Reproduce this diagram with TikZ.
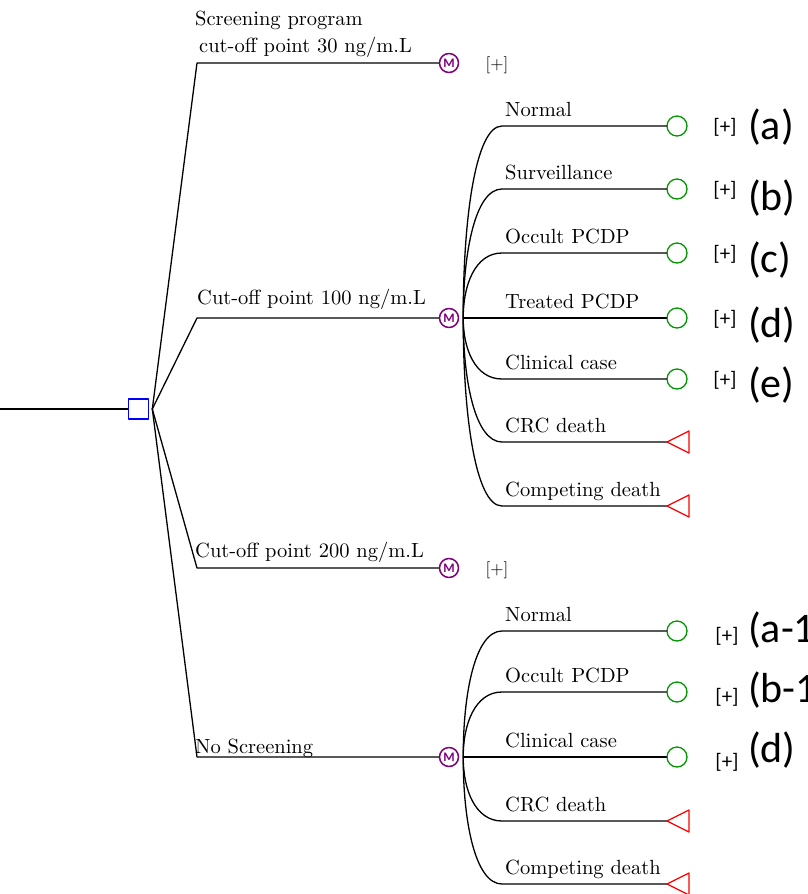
\documentclass[tikz,border=0pt]{standalone}
\usepackage{fontspec}
\newfontfamily\tagfont{Carlito}
\newfontfamily\treefont{lmroman10-regular}[Extension=.otf]
\definecolor{mkv}{RGB}{128,0,128}
\definecolor{chc}{RGB}{0,150,0}
\begin{document}
\begin{tikzpicture}[x=1pt,y=-1pt,line cap=round,line join=round,
  branch/.style={line width=1.3pt},
  decision/.style={draw=blue,line width=1.6pt,minimum size=20pt,inner sep=0pt},
  markov/.style={draw=mkv,circle,line width=1.5pt,minimum size=19pt,inner sep=0pt,
    text=mkv,font=\tagfont\bfseries\fontsize{13}{13}\selectfont},
  chance/.style={draw=chc,circle,line width=1.3pt,minimum size=20pt,inner sep=0pt},
  terminal/.style={draw=red,line width=1.3pt},
  lbl/.style={anchor=base west,inner sep=0pt,font=\treefont\fontsize{20.5}{24}\selectfont},
  more/.style={inner sep=0pt,font=\tagfont\fontsize{21}{21}\selectfont},
  tag/.style={anchor=base west,inner sep=0pt,font=\tagfont\fontsize{42}{42}\selectfont}]
  \useasboundingbox (0,0) rectangle (807,894);
  \clip (0,0) rectangle (807,894);

  % root and decision
  \coordinate (start) at (0,409);
  \node[decision] (dec) at (138.5,409) {};
  \draw[branch] (start) -- (dec.west);

  % strategies
  \node[markov] (m1) at (449,63) {M};
  \node[markov] (m2) at (449,318) {M};
  \node[markov] (m3) at (449,568) {M};
  \node[markov] (m4) at (449,757) {M};
  \foreach \m/\y in {m1/63,m2/318,m3/568,m4/757}
    \draw[branch] ([xshift=3pt]dec.east) -- (197,\y) -- (\m.west);
  \node[lbl] at (195,25) {Screening program};
  \node[lbl] at (199,52) {cut-off point 30 ng/m.L};
  \node[lbl] at (197,304) {Cut-off point 100 ng/m.L};
  \node[lbl] at (195,557) {Cut-off point 200 ng/m.L};
  \node[lbl] at (195,753) {No Screening};
  \node[inner sep=0pt,font=\treefont\fontsize{17}{17}\selectfont] at (497,65) {[+]};
  \node[inner sep=0pt,font=\treefont\fontsize{17}{17}\selectfont] at (497,570) {[+]};

  % states under cut-off 100
  \coordinate (h2) at ([xshift=4pt]m2.east);
  \foreach \y/\n/\txt/\ty/\lab in {126/a/Normal/139/(a),189/b/Surveillance/210/(b),
      253/c/Occult PCDP/272/(c),318/d/Treated PCDP/337/(d),379/e/Clinical case/397/(e)} {
    \node[chance] (c2\n) at (677,\y) {};
    \draw[branch] (h2) .. controls (463,{318+0.5*(\y-318)}) and (475,\y) .. (502,\y) -- (c2\n.west);
    \node[lbl] at (505,{\y-10}) {\txt};
    \node[more] at (725,{\y+1}) {[+]};
    \node[tag] at (748,\ty) {\lab};
  }
  \foreach \y/\n/\txt in {442/f/CRC death,506/g/Competing death} {
    \coordinate (t2\n) at (667,\y);
    \draw[branch] (h2) .. controls (463,{318+0.5*(\y-318)}) and (475,\y) .. (502,\y) -- (t2\n);
    \draw[terminal] (t2\n) -- ++(22,-11) -- ++(0,22) -- cycle;
    \node[lbl] at (505,{\y-10}) {\txt};
  }

  % states without screening
  \coordinate (h4) at ([xshift=4pt]m4.east);
  \foreach \y/\n/\txt/\ty/\lab in {631/a/Normal/642/(a-1),692/b/Occult PCDP/702/(b-1),
      757/c/Clinical case/762/(d)} {
    \node[chance] (c4\n) at (677,\y) {};
    \draw[branch] (h4) .. controls (463,{757+0.5*(\y-757)}) and (475,\y) .. (502,\y) -- (c4\n.west);
    \node[lbl] at (505,{\y-10}) {\txt};
    \node[more] at (727,{\y+5}) {[+]};
    \node[tag] at (748,\ty) {\lab};
  }
  \foreach \y/\n/\txt in {821/d/CRC death,884/e/Competing death} {
    \coordinate (t4\n) at (667,\y);
    \draw[branch] (h4) .. controls (463,{757+0.5*(\y-757)}) and (475,\y) .. (502,\y) -- (t4\n);
    \draw[terminal] (t4\n) -- ++(22,-11) -- ++(0,22) -- cycle;
    \node[lbl] at (505,{\y-10}) {\txt};
  }
\end{tikzpicture}
\end{document}
